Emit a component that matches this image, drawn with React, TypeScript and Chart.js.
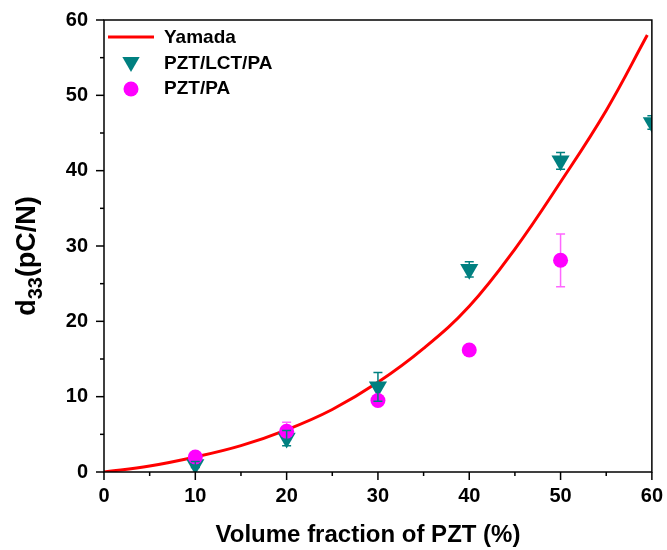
import { useEffect, useRef } from "react";
import { Chart, registerables } from "chart.js";

Chart.register(...registerables);

// ---- data ----
const volumeFraction = [10, 20, 30, 40, 50, 60];
const lctValues = [1.0, 4.5, 11.3, 26.9, 41.3, 46.4];
const lctErrors = [0.4, 1.0, 1.9, 1.0, 1.1, 0.9];
const paFraction = [10, 20, 30, 40, 50];
const paValues = [2.0, 5.4, 9.5, 16.2, 28.1];
const paErrors = [0.3, 1.2, 0.3, 0.3, 3.5];
const yamadaX = [0, 5, 10, 15, 20, 25, 30, 35, 40, 45, 50, 55, 59.5];
const yamadaY = [0, 0.8, 2.0, 3.5, 5.6, 8.3, 11.9, 16.4, 22.0, 29.6, 38.5, 48.0, 58.0];
const axisMin = 0;
const axisMax = 60;
const majorStep = 10;
const minorStep = 5;

const seriesNames = ["Yamada", "PZT/LCT/PA", "PZT/PA"];
const xTitle = "Volume fraction of PZT (%)";
const yTitleMain = "d";
const yTitleSub = "33";
const yTitleRest = "(pC/N)";

const RED = "#ff0000";
const TEAL = "#008080";
const MAGENTA = "#ff00ff";
const MAGENTA_ERR = "#ff66ff";
const FONT = "'Liberation Sans', Arial, sans-serif";

function drawErr(chart: any, xv: number[], yv: number[], ev: number[], color: string) {
  const ctx = chart.ctx;
  const xs = chart.scales.x;
  const ys = chart.scales.y;
  const area = chart.chartArea;
  ctx.save();
  ctx.beginPath();
  ctx.rect(area.left, area.top, area.right - area.left, area.bottom - area.top);
  ctx.clip();
  ctx.strokeStyle = color;
  ctx.lineWidth = 1.5;
  xv.forEach((x, i) => {
    const px = xs.getPixelForValue(x);
    const pt = ys.getPixelForValue(yv[i] + ev[i]);
    const pb = ys.getPixelForValue(yv[i] - ev[i]);
    ctx.beginPath();
    ctx.moveTo(px, pt);
    ctx.lineTo(px, pb);
    ctx.moveTo(px - 4.5, pt);
    ctx.lineTo(px + 4.5, pt);
    ctx.moveTo(px - 4.5, pb);
    ctx.lineTo(px + 4.5, pb);
    ctx.stroke();
  });
  ctx.restore();
}

const decorPlugin = {
  id: "decor",
  beforeDatasetsDraw(chart: any) {
    drawErr(chart, paFraction, paValues, paErrors, MAGENTA_ERR);
  },
  afterDatasetsDraw(chart: any) {
    drawErr(chart, volumeFraction, lctValues, lctErrors, TEAL);
  },
  afterDraw(chart: any) {
    const ctx = chart.ctx;
    const xs = chart.scales.x;
    const ys = chart.scales.y;
    const a = chart.chartArea;
    ctx.save();
    // frame
    ctx.strokeStyle = "#000";
    ctx.lineWidth = 1.5;
    ctx.strokeRect(a.left, a.top, a.right - a.left, a.bottom - a.top);
    // ticks
    for (let v = axisMin; v <= axisMax; v += minorStep) {
      const len = v % majorStep === 0 ? 8 : 4;
      const px = xs.getPixelForValue(v);
      ctx.beginPath();
      ctx.moveTo(px, a.bottom);
      ctx.lineTo(px, a.bottom + len);
      ctx.stroke();
      const py = ys.getPixelForValue(v);
      ctx.beginPath();
      ctx.moveTo(a.left, py);
      ctx.lineTo(a.left - len, py);
      ctx.stroke();
    }
    // legend
    const lx = a.left + 4;
    ctx.strokeStyle = RED;
    ctx.lineWidth = 3;
    ctx.beginPath();
    ctx.moveTo(lx, 37);
    ctx.lineTo(lx + 46, 37);
    ctx.stroke();
    ctx.fillStyle = TEAL;
    ctx.beginPath();
    const tcx = lx + 23, tcy = 62, r = 10;
    ctx.moveTo(tcx - r * 0.866, tcy - r * 0.5);
    ctx.lineTo(tcx + r * 0.866, tcy - r * 0.5);
    ctx.lineTo(tcx, tcy + r);
    ctx.closePath();
    ctx.fill();
    ctx.fillStyle = MAGENTA;
    ctx.beginPath();
    ctx.arc(lx + 23, 89, 7.5, 0, Math.PI * 2);
    ctx.fill();
    ctx.fillStyle = "#000";
    ctx.font = `bold 19px ${FONT}`;
    ctx.textBaseline = "middle";
    ctx.textAlign = "left";
    ctx.fillText(seriesNames[0], lx + 56, 38);
    ctx.fillText(seriesNames[1], lx + 56, 64);
    ctx.fillText(seriesNames[2], lx + 56, 89);
    // x title
    ctx.font = `bold 24px ${FONT}`;
    ctx.textAlign = "center";
    ctx.textBaseline = "alphabetic";
    ctx.fillText(xTitle, 368, 542);
    // y title
    ctx.translate(43, 256);
    ctx.rotate(-Math.PI / 2);
    const mainFont = `bold 27px ${FONT}`;
    const subFont = `bold 20px ${FONT}`;
    ctx.font = mainFont;
    const w1 = ctx.measureText(yTitleMain).width;
    const w3 = ctx.measureText(yTitleRest).width;
    ctx.font = subFont;
    const w2 = ctx.measureText(yTitleSub).width;
    const x0 = -(w1 + w2 + w3) / 2;
    ctx.textAlign = "left";
    ctx.font = mainFont;
    ctx.fillText(yTitleMain, x0, -8);
    ctx.font = subFont;
    ctx.fillText(yTitleSub, x0 + w1, -1);
    ctx.font = mainFont;
    ctx.fillText(yTitleRest, x0 + w1 + w2, -8);
    ctx.restore();
  },
};

export default function App() {
  const ref = useRef<HTMLCanvasElement | null>(null);
  useEffect(() => {
    if (!ref.current) return;
    const tickCb = (v: any) => (Number(v) % majorStep === 0 ? String(v) : "");
    const chart = new Chart(ref.current, {
      type: "scatter",
      data: {
        datasets: [
          {
            label: seriesNames[2],
            data: paFraction.map((x, i) => ({ x, y: paValues[i] })),
            pointStyle: "circle",
            pointRadius: 7.5,
            backgroundColor: MAGENTA,
            borderColor: MAGENTA,
            borderWidth: 0,
            clip: 0,
          } as any,
          {
            label: seriesNames[1],
            data: volumeFraction.map((x, i) => ({ x, y: lctValues[i] })),
            pointStyle: "triangle",
            rotation: 180,
            pointRadius: 10.5,
            backgroundColor: TEAL,
            borderColor: TEAL,
            borderWidth: 0,
            clip: 0,
          } as any,
          {
            label: seriesNames[0],
            data: yamadaX.map((x, i) => ({ x, y: yamadaY[i] })),
            showLine: true,
            pointRadius: 0,
            borderColor: RED,
            borderWidth: 3,
            tension: 0.4,
            clip: 0,
          } as any,
        ],
      },
      options: {
        animation: false,
        responsive: false,
        devicePixelRatio: 1,
        layout: { padding: { left: 0, top: 19, right: 11, bottom: 0 } },
        plugins: { legend: { display: false }, tooltip: { enabled: false } },
        scales: {
          x: {
            type: "linear",
            min: axisMin,
            max: axisMax,
            afterFit: (s: any) => { s.height = 78; },
            grid: { drawOnChartArea: false, tickLength: 8, tickColor: "rgba(0,0,0,0)" },
            border: { display: false },
            ticks: {
              stepSize: minorStep,
              autoSkip: false,
              maxRotation: 0,
              padding: 4,
              color: "#000",
              font: { family: FONT, size: 20, weight: "bold" },
              callback: tickCb,
            },
          },
          y: {
            type: "linear",
            min: axisMin,
            max: axisMax,
            afterFit: (s: any) => { s.width = 104; },
            grid: { drawOnChartArea: false, tickLength: 8, tickColor: "rgba(0,0,0,0)" },
            border: { display: false },
            ticks: {
              stepSize: minorStep,
              autoSkip: false,
              padding: 8,
              color: "#000",
              font: { family: FONT, size: 20, weight: "bold" },
              callback: tickCb,
            },
          },
        },
      } as any,
      plugins: [decorPlugin],
    });
    return () => chart.destroy();
  }, []);
  return (
    <div style={{ position: "absolute", left: 0, top: 0, width: 667, height: 550, background: "#fff" }}>
      <canvas ref={ref} width={667} height={550} />
    </div>
  );
}
